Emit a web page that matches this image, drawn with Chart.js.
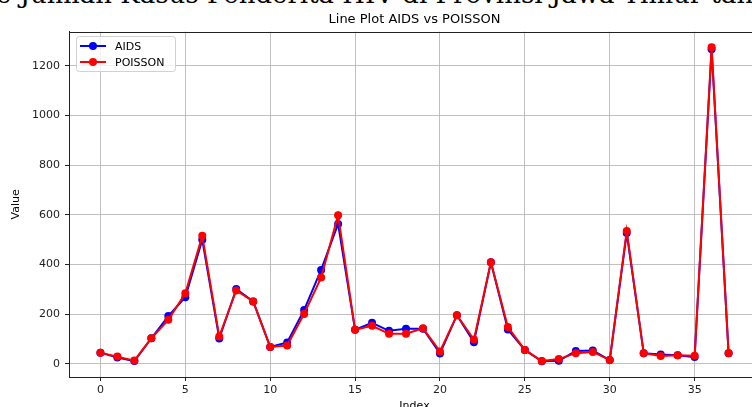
<!DOCTYPE html>
<html>
<head>
<meta charset="utf-8">
<script src="https://cdn.jsdelivr.net/npm/chart.js@4.4.0/dist/chart.umd.min.js"></script>
<style>
	html, body { margin: 0; padding: 0; background: #fff; overflow: hidden; }
	#wrap { position: relative; width: 752px; height: 407px; overflow: hidden; }
	#supt { position: absolute; left: -4px; top: -21px; font-family: 'DejaVu Serif'; font-size: 26px; white-space: nowrap; color: #000; }
	#box { position: absolute; left: 0; top: 0; }
</style>
</head>
<body>
<div id="wrap">
	<div id="supt">e Jumlah Kasus Penderita HIV di Provinsi Jawa Timur tahun</div>
	<div id="box"><canvas id="c" width="800" height="420"></canvas></div>
</div>
<script>
const indexValues = [0,1,2,3,4,5,6,7,8,9,10,11,12,13,14,15,16,17,18,19,20,21,22,23,24,25,26,27,28,29,30,31,32,33,34,35,36,37];
const aidsValues = [45,25,11,103,192,268,499,102,301,251,68,86,217,378,563,137,165,133,141,141,42,196,87,409,138,56,10,12,52,54,15,526,43,38,35,27,1266,43];
const poissonValues = [45,29,13,103,177,284,515,110,295,251,68,74,201,347,598,137,153,121,121,143,50,196,98,409,148,56,11,19,43,48,15,535,43,32,35,33,1274,43];
const xTicks = [0,5,10,15,20,25,30,35];
const yTicks = [0,200,400,600,800,1000,1200];

const FONT = 'DejaVu Sans';

function toPoints(values) {
	return values.map((v, i) => ({ x: indexValues[i], y: v }));
}

// top and right spines + legend box like matplotlib
const frameAndLegend = {
	id: 'frameAndLegend',
	afterDraw(chart) {
		const ctx = chart.ctx;
		const a = chart.chartArea;
		ctx.save();
		ctx.strokeStyle = '#222';
		ctx.lineWidth = 1;
		ctx.strokeRect(Math.round(a.left) + 0.5, Math.round(a.top) + 0.5, Math.round(a.right - a.left), Math.round(a.bottom - a.top));

		const x = Math.round(a.left) + 7, y = Math.round(a.top) + 4, w = 99, h = 35;
		ctx.fillStyle = 'rgba(255,255,255,0.8)';
		ctx.strokeStyle = 'rgba(204,204,204,0.9)';
		ctx.beginPath();
		ctx.roundRect(x + 0.5, y + 0.5, w, h, 3);
		ctx.fill();
		ctx.stroke();

		chart.data.datasets.forEach((ds, i) => {
			const cy = y + 10 + i * 16;
			ctx.strokeStyle = ds.borderColor;
			ctx.lineWidth = 2;
			ctx.beginPath();
			ctx.moveTo(x + 4, cy);
			ctx.lineTo(x + 30, cy);
			ctx.stroke();
			ctx.fillStyle = ds.borderColor;
			ctx.beginPath();
			ctx.arc(x + 17, cy, 4, 0, Math.PI * 2);
			ctx.fill();
			ctx.fillStyle = '#000';
			ctx.font = '11px ' + FONT;
			ctx.textBaseline = 'middle';
			ctx.fillText(ds.label, x + 39, cy + 1);
		});
		ctx.restore();
	}
};

new Chart(document.getElementById('c'), {
	type: 'line',
	data: {
		datasets: [{
			label: 'AIDS',
			data: toPoints(aidsValues),
			borderColor: '#0000ff',
			backgroundColor: '#0000ff',
			borderWidth: 2,
			pointRadius: 4,
			pointBorderWidth: 0,
			pointHoverRadius: 4,
			tension: 0,
			order: 1
		}, {
			label: 'POISSON',
			data: toPoints(poissonValues),
			borderColor: '#ff0000',
			backgroundColor: '#ff0000',
			borderWidth: 2,
			pointRadius: 4,
			pointBorderWidth: 0,
			pointHoverRadius: 4,
			tension: 0,
			order: 0
		}]
	},
	options: {
		responsive: false,
		animation: false,
		devicePixelRatio: 1,
		layout: { padding: { left: 0, top: 0, right: 40, bottom: 0 } },
		scales: {
			x: {
				type: 'linear',
				min: -1.85,
				max: 38.85,
				afterBuildTicks: scale => { scale.ticks = xTicks.map(v => ({ value: v })); },
				afterFit: scale => { scale.height = 43; },
				ticks: { font: { family: FONT, size: 11 }, color: '#222', padding: 3, maxRotation: 0, callback: v => String(v) },
				grid: { color: 'rgba(176,176,176,0.8)', lineWidth: 1, tickLength: 4, tickColor: '#222' },
				border: { display: true, color: '#222' },
				title: { display: true, text: 'Index', font: { family: FONT, size: 11 }, color: '#000', padding: { top: 0, bottom: 7 } }
			},
			y: {
				min: -53,
				max: 1337,
				afterBuildTicks: scale => { scale.ticks = yTicks.map(v => ({ value: v })); },
				afterFit: scale => { scale.width = 69; },
				ticks: { font: { family: FONT, size: 11 }, color: '#222', padding: 5, callback: v => String(v) },
				grid: { color: 'rgba(176,176,176,0.8)', lineWidth: 1, tickLength: 4, tickColor: '#222' },
				border: { display: true, color: '#222' },
				title: { display: true, text: 'Value', font: { family: FONT, size: 11 }, color: '#000', padding: { top: 10, bottom: 0 } }
			}
		},
		plugins: {
			legend: { display: false },
			tooltip: { enabled: false },
			title: {
				display: true,
				fullSize: false,
				text: 'Line Plot AIDS vs POISSON',
				font: { family: FONT, size: 13, weight: 'normal' },
				color: '#000',
				padding: { top: 12, bottom: 4 }
			}
		}
	},
	plugins: [frameAndLegend]
});
</script>
</body>
</html>
